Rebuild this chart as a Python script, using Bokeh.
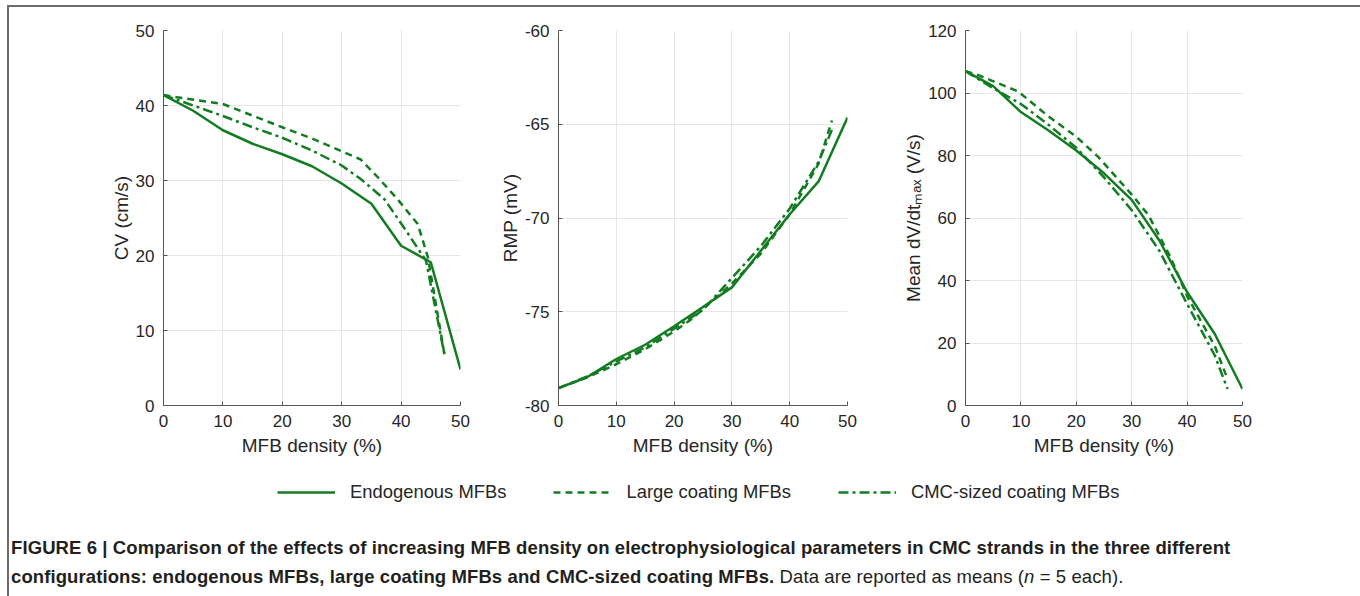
from bokeh.plotting import figure
from bokeh.layouts import row, column
from bokeh.models import Range1d, FixedTicker, Legend, LegendItem, Div
from bokeh.embed import file_html
from bokeh.resources import INLINE

# ---------------- data ----------------
x_ticks = [0, 10, 20, 30, 40, 50]
cv_ticks = [0, 10, 20, 30, 40, 50]
rmp_ticks = [-80, -75, -70, -65, -60]
dvdt_ticks = [0, 20, 40, 60, 80, 100, 120]

series_names = ["Endogenous MFBs", "Large coating MFBs", "CMC-sized coating MFBs"]

# CV (cm/s)
cv_endo_x = [0, 5, 10, 15, 20, 25, 30, 35, 40, 45, 50]
cv_endo_y = [41.4, 39.3, 36.7, 34.9, 33.5, 31.9, 29.6, 26.9, 21.3, 19.1, 4.8]
cv_large_x = [0, 2.3, 10, 20, 25, 30, 33.2, 36, 39.4, 42.8, 44.5, 47.3]
cv_large_y = [41.4, 41.1, 40.2, 37.1, 35.6, 33.9, 32.8, 30.5, 27.5, 24.2, 19.8, 6.8]
cv_cmc_x = [0, 5, 10, 15, 20, 25, 30, 33.2, 37.2, 40.5, 44.2, 47.3]
cv_cmc_y = [41.4, 40.0, 38.6, 37.1, 35.7, 34.0, 32.0, 30.2, 27.5, 23.7, 19.3, 6.8]

# RMP (mV)
rmp_endo_x = [0, 5, 10, 15, 20, 25, 30, 35, 40, 45, 50]
rmp_endo_y = [-79.07, -78.48, -77.52, -76.76, -75.77, -74.75, -73.7, -71.75, -69.8, -68.05, -64.64]
rmp_large_x = [0, 5, 10, 15, 20, 23, 30, 35, 40, 45, 47.3]
rmp_large_y = [-79.07, -78.5, -77.8, -77.0, -76.05, -75.4, -73.5, -71.9, -69.8, -67.1, -64.8]
rmp_cmc_x = [0, 5, 10, 15, 20, 25, 30, 35, 40, 45, 47.3]
rmp_cmc_y = [-79.07, -78.45, -77.65, -76.9, -75.9, -74.9, -73.2, -71.5, -69.5, -67.0, -65.3]

# Mean dV/dt max (V/s)
dv_endo_x = [0, 5, 10, 15, 20, 25, 30, 35, 40, 45, 50]
dv_endo_y = [107, 102.2, 93.9, 88.0, 81.6, 74.3, 65.8, 52.8, 36.3, 22.9, 5.3]
dv_large_x = [0, 2.2, 9.5, 15, 20, 24, 28, 30, 33, 37, 40, 45, 47.3]
dv_large_y = [107, 105.8, 100.5, 92.5, 86, 79.5, 71.5, 67.5, 61, 47.5, 35, 19, 8.5]
dv_cmc_x = [0, 5, 10, 15, 20, 25, 30, 35, 40, 45, 47.3]
dv_cmc_y = [107, 101.5, 96.5, 89.8, 82.5, 73, 62.5, 49.5, 32.5, 16, 5.3]

# ---------------- style ----------------
GREEN = "#137c22"
FONT = "Liberation Sans"
styles = [dict(line_dash="solid", line_width=2.5),
          dict(line_dash="7 5", line_width=2.5),
          dict(line_dash="10 4 3 4", line_width=2.5)]


def make_panel(ylabel, yr, yticks, data, fw, mbl, mbr):
    p = figure(frame_width=fw, frame_height=375,
               x_range=Range1d(0, 50), y_range=Range1d(*yr),
               output_backend="svg", toolbar_location=None,
               min_border_left=mbl, min_border_right=mbr,
               min_border_top=23, min_border_bottom=65)
    p.outline_line_color = None
    p.background_fill_color = "white"
    p.border_fill_color = "white"
    p.grid.grid_line_color = "#e6e6e6"
    p.grid.grid_line_width = 1
    p.xaxis.ticker = FixedTicker(ticks=x_ticks)
    p.yaxis.ticker = FixedTicker(ticks=yticks)
    p.yaxis.major_label_overrides = {t: str(t) for t in yticks}
    p.xaxis.axis_label = "MFB density (%)"
    p.yaxis.axis_label = ylabel
    for ax in (p.xaxis, p.yaxis):
        ax.axis_label_text_font = FONT
        ax.axis_label_text_font_size = "19px"
        ax.axis_label_text_font_style = "normal"
        ax.axis_label_text_color = "#262626"
        ax.major_label_text_font = FONT
        ax.major_label_text_font_size = "17px"
        ax.major_label_text_color = "#262626"
        ax.axis_line_color = "#555555"
        ax.major_tick_line_color = "#555555"
        ax.major_tick_in = 4
        ax.major_tick_out = 0
        ax.minor_tick_line_color = None
    p.xaxis.major_label_standoff = 9
    p.xaxis.axis_label_standoff = 5
    p.yaxis.major_label_standoff = 9
    p.yaxis.axis_label_standoff = 1
    for (xs, ys), st in zip(data, styles):
        p.line(xs, ys, line_color=GREEN, **st)
    return p


p1 = make_panel("CV (cm/s)", (0, 50), cv_ticks,
                [(cv_endo_x, cv_endo_y), (cv_large_x, cv_large_y), (cv_cmc_x, cv_cmc_y)],
                297, 154, 35)
p2 = make_panel("RMP (mV)", (-80, -60), rmp_ticks,
                [(rmp_endo_x, rmp_endo_y), (rmp_large_x, rmp_large_y), (rmp_cmc_x, rmp_cmc_y)],
                289, 63, 53)
p3 = make_panel("Mean dV/dt\u2098\u2090\u2093 (V/s)", (0, 120), dvdt_ticks,
                [(dv_endo_x, dv_endo_y), (dv_large_x, dv_large_y), (dv_cmc_x, dv_cmc_y)],
                277, 63, 114)

# legend strip
lf = figure(width=1345, height=45, output_backend="svg", toolbar_location=None,
            x_range=Range1d(0, 1), y_range=Range1d(0, 1),
            x_axis_location=None, y_axis_location=None, min_border=0)
lf.grid.visible = False
lf.outline_line_color = None
nan2 = [float("nan"), float("nan")]
items = []
for name, st in zip(series_names, styles):
    r = lf.line(x=nan2, y=nan2, line_color=GREEN, **st)
    items.append(LegendItem(label=name, renderers=[r]))
legend = Legend(items=items, orientation="horizontal", location=(268, 12),
                glyph_width=58, glyph_height=20, label_height=20,
                label_standoff=15, spacing=47, padding=0, margin=0,
                border_line_color=None, background_fill_alpha=0,
                label_text_font=FONT, label_text_font_size="18.4px",
                label_text_color="#262626")
lf.add_layout(legend)

caption = Div(
    text=('<div style="font-family:\'Liberation Sans\',Arial,sans-serif;font-size:18.5px;'
          'letter-spacing:0.1px;line-height:29px;color:#231f20;padding:13px 0 0 0;'
          'margin-left:-3px;white-space:nowrap;">'
          '<b>FIGURE 6 | Comparison of the effects of increasing MFB density on electrophysiological '
          'parameters in CMC strands in the three different<br>configurations: endogenous MFBs, large '
          'coating MFBs and CMC-sized coating MFBs.</b> Data are reported as means '
          '(<i>n</i> = 5 each).</div>'),
    width=1345, height=79)

border = "2px solid #6d6d6d"
layout = column(row(p1, p2, p3), lf, caption, margin=(5, 0, 0, 7),
                styles={"border-top": border, "border-left": border, "border-right": border})

open("out.html", "w").write(file_html(layout, INLINE))
